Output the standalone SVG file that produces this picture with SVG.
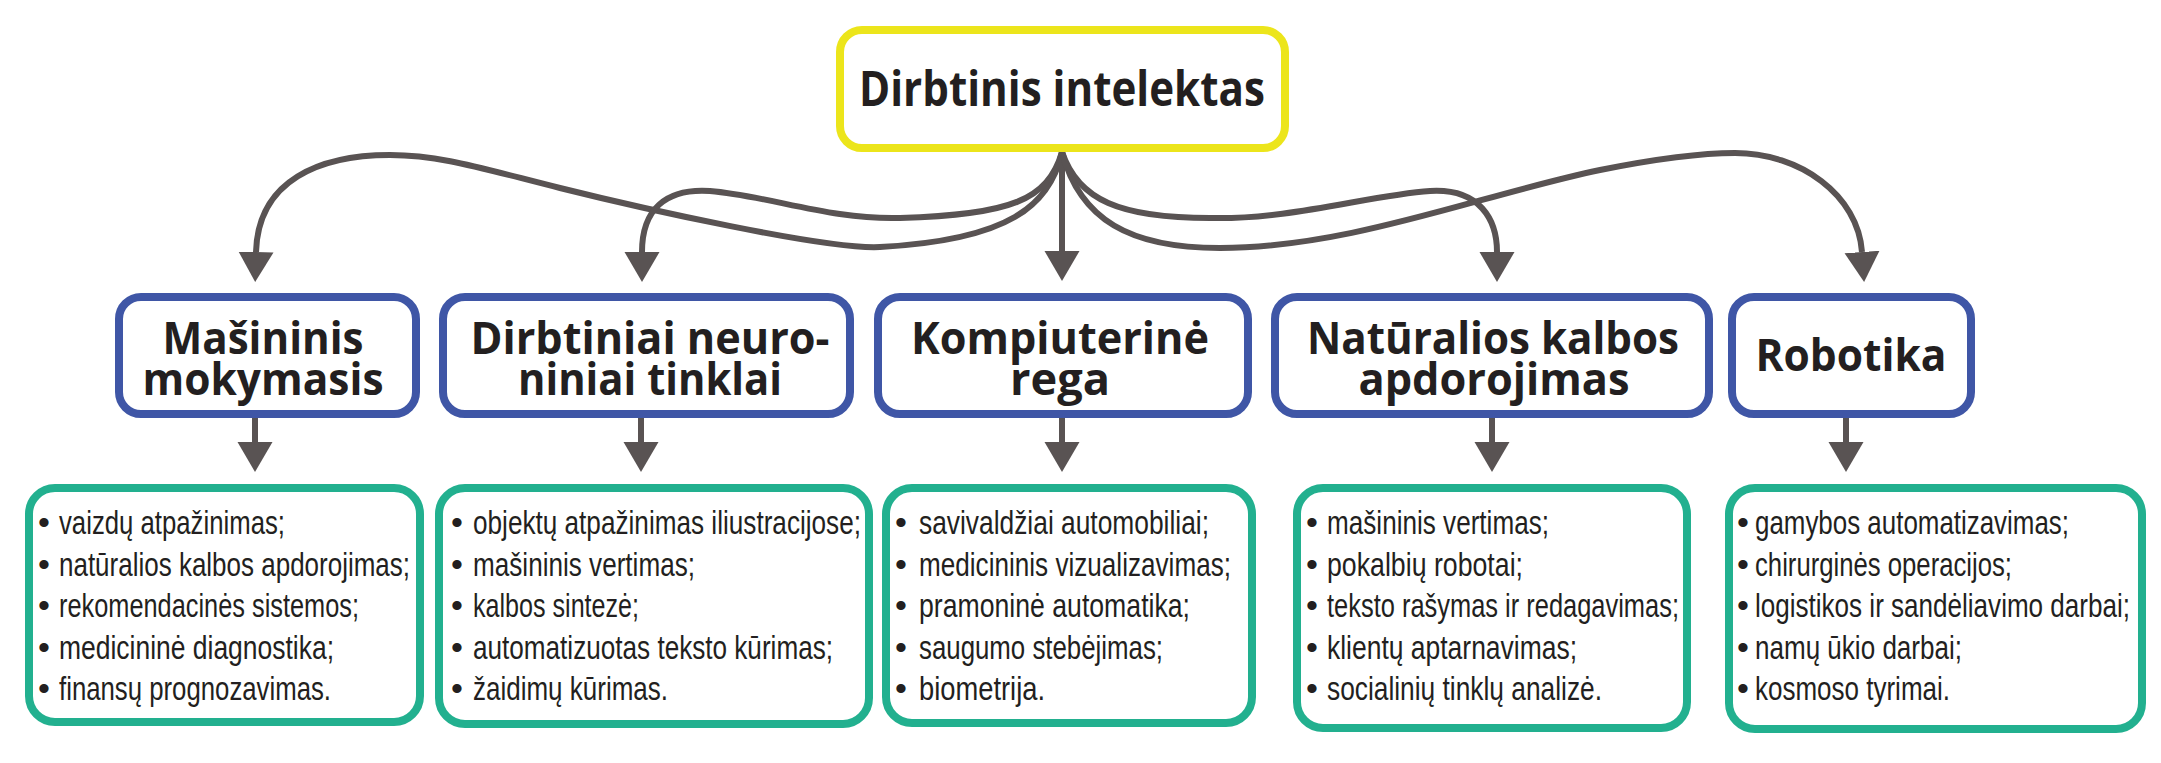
<svg xmlns="http://www.w3.org/2000/svg" width="2161" height="763" viewBox="0 0 2161 763">
<style>
.bg{fill:#ffffff}
.top{fill:#ffffff;stroke:#ece51b;stroke-width:8}
.mid{fill:#ffffff;stroke:#3f56a6;stroke-width:8}
.leaf{fill:#ffffff;stroke:#22b08f;stroke-width:8}
.con{fill:none;stroke:#595353;stroke-width:6;marker-end:url(#ah)}
.t1{font-family:"Open Sans","Liberation Sans",sans-serif;font-weight:bold;font-size:48px;fill:#231f20;text-anchor:middle}
.t2{font-family:"Open Sans","Liberation Sans",sans-serif;font-weight:bold;font-size:45px;fill:#231f20;text-anchor:middle}
.li{font-family:"Liberation Sans","Arial",sans-serif;font-size:34px;fill:#231f20}
</style>
<defs>
<marker id="ah" markerUnits="userSpaceOnUse" viewBox="0 -18 30 36" refX="0" refY="0" markerWidth="30" markerHeight="36" orient="auto">
<path d="M0,-17.5L30,0L0,17.5Z" fill="#595353"/>
</marker>
</defs>
<rect class="bg" x="0" y="0" width="2161" height="763"/>

<g id="connectors">
<path class="con" d="M1062,152 C1050,205 1010,240 880,247 C828,250 640,208 560,188 S440,155 390,155 C320,155 258,180 256,252"/>
<path class="con" d="M1062,152 C1048,200 1010,215 900,218 C830,220 770,196 710,191 C665,188 642,210 642,252"/>
<path class="con" d="M1062,152 L1062,251"/>
<path class="con" d="M1062,152 C1078,200 1120,218 1210,218 C1290,220 1370,195 1430,191 C1480,188 1497,220 1497,252"/>
<path class="con" d="M1062,152 C1080,220 1130,248 1220,248 C1350,248 1480,195 1600,170 C1660,158 1700,153 1735,153 C1800,153 1858,195 1862,252"/>
<path class="con" d="M255,416 L255,442"/>
<path class="con" d="M641,416 L641,442"/>
<path class="con" d="M1062,416 L1062,442"/>
<path class="con" d="M1492,416 L1492,442"/>
<path class="con" d="M1846,416 L1846,442"/>
</g>

<g id="node-root">
<rect class="top" x="840" y="30" width="445" height="118" rx="22"/>
<text class="t1" x="1062" y="106" textLength="406" lengthAdjust="spacingAndGlyphs">Dirbtinis intelektas</text>
</g>

<g id="node-ml">
<rect class="mid" x="119" y="297" width="297" height="117" rx="22"/>
<text class="t2" x="263" y="354" textLength="201" lengthAdjust="spacingAndGlyphs">Mašininis</text>
<text class="t2" x="263" y="395" textLength="241" lengthAdjust="spacingAndGlyphs">mokymasis</text>
</g>
<g id="node-nn">
<rect class="mid" x="443" y="297" width="407" height="117" rx="22"/>
<text class="t2" x="650" y="354" textLength="359" lengthAdjust="spacingAndGlyphs">Dirbtiniai neuro-</text>
<text class="t2" x="650" y="395" textLength="264" lengthAdjust="spacingAndGlyphs">niniai tinklai</text>
</g>
<g id="node-cv">
<rect class="mid" x="878" y="297" width="370" height="117" rx="22"/>
<text class="t2" x="1060" y="354" textLength="298" lengthAdjust="spacingAndGlyphs">Kompiuterinė</text>
<text class="t2" x="1060" y="395" textLength="100" lengthAdjust="spacingAndGlyphs">rega</text>
</g>
<g id="node-nlp">
<rect class="mid" x="1275" y="297" width="434" height="117" rx="22"/>
<text class="t2" x="1493" y="354" textLength="372" lengthAdjust="spacingAndGlyphs">Natūralios kalbos</text>
<text class="t2" x="1494" y="395" textLength="271" lengthAdjust="spacingAndGlyphs">apdorojimas</text>
</g>
<g id="node-rob">
<rect class="mid" x="1732" y="297" width="239" height="117" rx="22"/>
<text class="t2" x="1851" y="371" textLength="191" lengthAdjust="spacingAndGlyphs">Robotika</text>
</g>

<g id="list-ml">
<rect class="leaf" x="29" y="488" width="391" height="234" rx="26"/>
<text class="li" y="534"><tspan x="38">•</tspan><tspan x="59" textLength="226" lengthAdjust="spacingAndGlyphs">vaizdų atpažinimas;</tspan></text>
<text class="li" y="575.5"><tspan x="38">•</tspan><tspan x="59" textLength="351" lengthAdjust="spacingAndGlyphs">natūralios kalbos apdorojimas;</tspan></text>
<text class="li" y="617"><tspan x="38">•</tspan><tspan x="59" textLength="300" lengthAdjust="spacingAndGlyphs">rekomendacinės sistemos;</tspan></text>
<text class="li" y="658.5"><tspan x="38">•</tspan><tspan x="59" textLength="275" lengthAdjust="spacingAndGlyphs">medicininė diagnostika;</tspan></text>
<text class="li" y="700"><tspan x="38">•</tspan><tspan x="59" textLength="272" lengthAdjust="spacingAndGlyphs">finansų prognozavimas.</tspan></text>
</g>
<g id="list-nn">
<rect class="leaf" x="439" y="488" width="430" height="236" rx="26"/>
<text class="li" y="534"><tspan x="451">•</tspan><tspan x="473" textLength="388" lengthAdjust="spacingAndGlyphs">objektų atpažinimas iliustracijose;</tspan></text>
<text class="li" y="575.5"><tspan x="451">•</tspan><tspan x="473" textLength="222" lengthAdjust="spacingAndGlyphs">mašininis vertimas;</tspan></text>
<text class="li" y="617"><tspan x="451">•</tspan><tspan x="473" textLength="166" lengthAdjust="spacingAndGlyphs">kalbos sintezė;</tspan></text>
<text class="li" y="658.5"><tspan x="451">•</tspan><tspan x="473" textLength="360" lengthAdjust="spacingAndGlyphs">automatizuotas teksto kūrimas;</tspan></text>
<text class="li" y="700"><tspan x="451">•</tspan><tspan x="473" textLength="195" lengthAdjust="spacingAndGlyphs">žaidimų kūrimas.</tspan></text>
</g>
<g id="list-cv">
<rect class="leaf" x="886" y="488" width="366" height="235" rx="26"/>
<text class="li" y="534"><tspan x="895">•</tspan><tspan x="919" textLength="290" lengthAdjust="spacingAndGlyphs">savivaldžiai automobiliai;</tspan></text>
<text class="li" y="575.5"><tspan x="895">•</tspan><tspan x="919" textLength="312" lengthAdjust="spacingAndGlyphs">medicininis vizualizavimas;</tspan></text>
<text class="li" y="617"><tspan x="895">•</tspan><tspan x="919" textLength="271" lengthAdjust="spacingAndGlyphs">pramoninė automatika;</tspan></text>
<text class="li" y="658.5"><tspan x="895">•</tspan><tspan x="919" textLength="244" lengthAdjust="spacingAndGlyphs">saugumo stebėjimas;</tspan></text>
<text class="li" y="700"><tspan x="895">•</tspan><tspan x="919" textLength="126" lengthAdjust="spacingAndGlyphs">biometrija.</tspan></text>
</g>
<g id="list-nlp">
<rect class="leaf" x="1297" y="488" width="390" height="240" rx="26"/>
<text class="li" y="534"><tspan x="1306">•</tspan><tspan x="1327" textLength="222" lengthAdjust="spacingAndGlyphs">mašininis vertimas;</tspan></text>
<text class="li" y="575.5"><tspan x="1306">•</tspan><tspan x="1327" textLength="196" lengthAdjust="spacingAndGlyphs">pokalbių robotai;</tspan></text>
<text class="li" y="617"><tspan x="1306">•</tspan><tspan x="1327" textLength="352" lengthAdjust="spacingAndGlyphs">teksto rašymas ir redagavimas;</tspan></text>
<text class="li" y="658.5"><tspan x="1306">•</tspan><tspan x="1327" textLength="250" lengthAdjust="spacingAndGlyphs">klientų aptarnavimas;</tspan></text>
<text class="li" y="700"><tspan x="1306">•</tspan><tspan x="1327" textLength="275" lengthAdjust="spacingAndGlyphs">socialinių tinklų analizė.</tspan></text>
</g>
<g id="list-rob">
<rect class="leaf" x="1729" y="488" width="413" height="241" rx="26"/>
<text class="li" y="534"><tspan x="1737">•</tspan><tspan x="1755" textLength="314" lengthAdjust="spacingAndGlyphs">gamybos automatizavimas;</tspan></text>
<text class="li" y="575.5"><tspan x="1737">•</tspan><tspan x="1755" textLength="257" lengthAdjust="spacingAndGlyphs">chirurginės operacijos;</tspan></text>
<text class="li" y="617"><tspan x="1737">•</tspan><tspan x="1755" textLength="375" lengthAdjust="spacingAndGlyphs">logistikos ir sandėliavimo darbai;</tspan></text>
<text class="li" y="658.5"><tspan x="1737">•</tspan><tspan x="1755" textLength="207" lengthAdjust="spacingAndGlyphs">namų ūkio darbai;</tspan></text>
<text class="li" y="700"><tspan x="1737">•</tspan><tspan x="1755" textLength="195" lengthAdjust="spacingAndGlyphs">kosmoso tyrimai.</tspan></text>
</g>
</svg>
